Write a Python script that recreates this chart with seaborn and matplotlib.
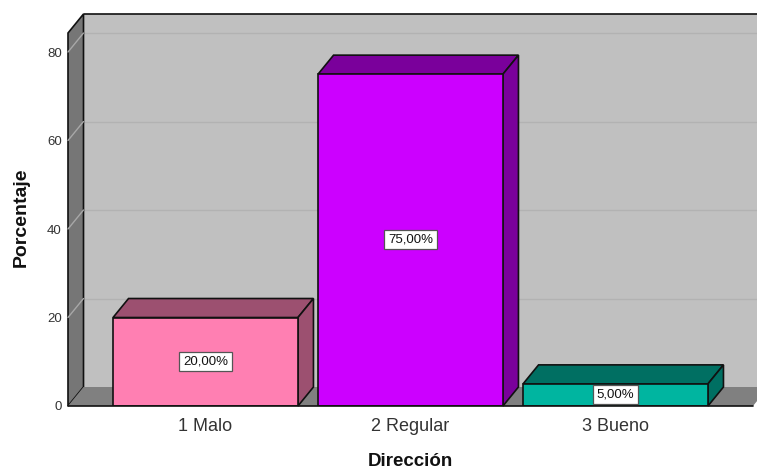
import pandas as pd
import seaborn as sns
import matplotlib.pyplot as plt
from matplotlib.patches import Polygon

categorias = ['1 Malo', '2 Regular', '3 Bueno']
porcentajes = [20, 75, 5]
etiquetas = ['20,00%', '75,00%', '5,00%']
colores = ['#FF7FB2', '#CC00FF', '#00B5A0']
colores_lado = ['#9C5070', '#7A009B', '#006F62']
ticks_y = [0, 20, 40, 60, 80]

sns.set_theme(style='white')
plt.rcParams['font.family'] = ['Liberation Sans', 'DejaVu Sans']

datos = pd.DataFrame({'Direccion': categorias, 'Porcentaje': porcentajes})

fig = plt.figure(figsize=(7.57, 4.70), dpi=100)
ax = fig.add_axes([68 / 757, 1 - 406 / 470, (753 - 68) / 757, (406 - 33) / 470])

sns.barplot(data=datos, x='Direccion', y='Porcentaje', hue='Direccion', palette=colores,
            width=0.902, saturation=1, edgecolor='#111111', linewidth=1.2, legend=False,
            zorder=5, ax=ax)

x0, x1 = -0.6707, 2.6707
y1 = 84.3
ax.set_xlim(x0, x1)
ax.set_ylim(0, y1)

# profundidad del efecto 3D en unidades de datos
dx = 15.5 / 205
dy = 19 / 4.425


def poligono(puntos, color, borde='#111111', z=1, lw=1.2):
    ax.add_patch(Polygon(puntos, closed=True, facecolor=color, edgecolor=borde,
                         linewidth=lw, zorder=z, clip_on=False))


# paredes y piso
poligono([(x0 + dx, dy), (x1 + dx, dy), (x1 + dx, y1 + dy), (x0 + dx, y1 + dy)], '#C0C0C0', borde='none')
poligono([(x0, 0), (x0 + dx, dy), (x0 + dx, y1 + dy), (x0, y1)], '#767676', z=2)
poligono([(x0, 0), (x1, 0), (x1 + dx, dy), (x0 + dx, dy)], '#808080', borde='none', z=2)

for t in ticks_y[1:]:
    ax.plot([x0 + dx, x1 + dx], [t + dy, t + dy], color='#B2B2B2', lw=1, zorder=1.5, clip_on=False)
    ax.plot([x0, x0 + dx], [t, t + dy], color='#A8A8A8', lw=1, zorder=3, clip_on=False)

ax.plot([x0 + dx, x1 + dx], [y1 + dy, y1 + dy], color='#111111', lw=1.2, zorder=3, clip_on=False)
ax.plot([x0, x1], [0, 0], color='#111111', lw=1.2, zorder=7, clip_on=False)

# caras de las barras
for i, barra in enumerate(ax.patches[:len(categorias)]):
    izq = barra.get_x()
    der = izq + barra.get_width()
    alto = barra.get_height()
    poligono([(izq, alto), (der, alto), (der + dx, alto + dy), (izq + dx, alto + dy)], colores_lado[i], z=4)
    poligono([(der, 0), (der + dx, dy), (der + dx, alto + dy), (der, alto)], colores_lado[i], z=4)
    ax.text(izq + barra.get_width() / 2, alto / 2 + 0.1, etiquetas[i], ha='center', va='center',
            fontsize=9.5, color='#111111', zorder=8,
            bbox=dict(boxstyle='square,pad=0.28', facecolor='white', edgecolor='#555555', linewidth=0.9))

ax.set_yticks(ticks_y)
ax.set_xticks(range(len(categorias)))
ax.set_xticklabels(categorias, va='baseline')
ax.tick_params(axis='y', length=0, pad=4.5, labelsize=9.5, labelcolor='#333333')
ax.tick_params(axis='x', length=0, pad=18, labelsize=13, labelcolor='#333333')
ax.set_xlabel('Dirección', fontsize=13.5, fontweight='bold', color='#111111', labelpad=13)
ax.set_ylabel('Porcentaje', fontsize=14, fontweight='bold', color='#111111', labelpad=12.5, y=0.505)
sns.despine(ax=ax, left=True, bottom=True, top=True, right=True)

fig.savefig('out.png', dpi=100, facecolor='white')
